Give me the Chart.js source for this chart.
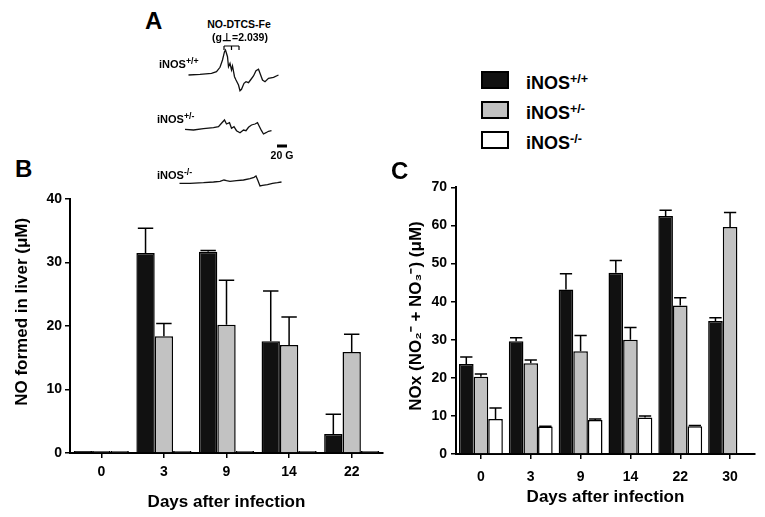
<!DOCTYPE html>
<html>
<head>
<meta charset="utf-8">
<script src="https://cdn.jsdelivr.net/npm/chart.js@4.4.1/dist/chart.umd.min.js"></script>
<style>
  html, body { margin: 0; padding: 0; background: #fff; }
  #fig { position: relative; width: 765px; height: 517px; overflow: hidden;
         font-family: "Liberation Sans", Arial, Helvetica, sans-serif; font-weight: bold; color: #000; }
  #fig canvas { position: absolute; }
  .txt { position: absolute; line-height: 1; white-space: nowrap; }
  .txt sup { font-size: 0.7em; vertical-align: 0.5em; line-height: 0; }
  .small sup { font-size: 0.8em; vertical-align: 0.45em; }
  .panel { font-size: 24px; }
  .small { font-size: 11px; }
  .note { font-size: 10.5px; }
  .center { transform: translateX(-50%); }
  .key { position: absolute; width: 28px; height: 18px; border: 2px solid #000; box-sizing: border-box; }
</style>
</head>
<body>
<div id="fig">
  <canvas id="traceChart" width="130" height="155" style="left:170px;top:40px"></canvas>
  <canvas id="liverChart" width="390" height="332" style="left:0;top:185px"></canvas>
  <canvas id="noxChart" width="385" height="342" style="left:380px;top:175px"></canvas>

  <div class="txt panel" style="left:145px;top:9px">A</div>
  <div class="txt panel" style="left:15px;top:157px">B</div>
  <div class="txt panel" style="left:391px;top:159px">C</div>

  <div class="txt note center" style="left:239px;top:19px">NO-DTCS-Fe</div>
  <div class="txt note center" style="left:240px;top:32px">(g⊥=2.039)</div>
  <div class="txt small" style="left:159px;top:59px">iNOS<sup>+/+</sup></div>
  <div class="txt small" style="left:157px;top:114px">iNOS<sup>+/-</sup></div>
  <div class="txt small" style="left:157px;top:170px">iNOS<sup>-/-</sup></div>
  <div class="txt note center" style="left:282px;top:150px">20 G</div>
</div>
<script>
// genotypes shared by every panel
const genotypes = ['+/+', '+/-', '-/-'];
const barColors = ['#111111', '#c2c2c2', '#ffffff'];

// B: NO formed in liver (uM), mean and upper error
const liverDays = ['0', '3', '9', '14', '22'];
const liverTicks = [0, 10, 20, 30, 40];
const liverWT = [0.3, 31.5, 31.7, 17.6, 3.0];
const liverWTErr = [0, 3.9, 0.2, 7.9, 3.1];
const liverHet = [0.3, 18.4, 20.2, 17.0, 15.9];
const liverHetErr = [0, 2.0, 7.0, 4.4, 2.8];
const liverKO = [0.3, 0.3, 0.3, 0.3, 0.3];
const liverKOErr = [0, 0, 0, 0, 0];

// C: NOx in serum (uM)
const noxDays = ['0', '3', '9', '14', '22', '30'];
const noxTicks = [0, 10, 20, 30, 40, 50, 60, 70];
const noxWT = [23.6, 29.6, 43.2, 47.6, 62.5, 34.9];
const noxWTErr = [1.9, 0.9, 4.1, 3.2, 1.5, 0.9];
const noxHet = [20.3, 23.8, 27.0, 30.0, 39.0, 59.6];
const noxHetErr = [0.7, 0.9, 4.1, 3.2, 2.0, 3.8];
const noxKO = [9.2, 7.2, 8.9, 9.6, 7.3, 0.2];
const noxKOErr = [2.9, 0.1, 0.3, 0.4, 0.2, 0];

// A: EPR spectra, field (G) and signal (arb. units)
const wtField = [21, 44, 67, 77, 84, 89, 93, 95, 99, 101, 104, 107, 109, 113, 116, 121, 124, 127, 132, 136, 141, 145, 151, 156, 161, 164, 169, 174, 181, 191, 201];
const wtSignal = [0, 0.7, 1.7, 3.3, 7.7, 15, 23.3, 25, 18.3, 8.3, 11.7, 5, 9, -1.7, -5, -10, -15.7, -14.3, -8.3, -6.7, -7.7, -5, -1, 4.3, 5.7, 1.7, -5, -6.7, -3.3, -2.3, 0];
const hetField = [14, 31, 51, 71, 81, 87, 93, 97, 103, 107, 112, 117, 124, 131, 136, 141, 147, 154, 159, 163, 167, 171, 176, 181, 187];
const hetSignal = [-0.3, -1, 0.3, 1.3, 2.3, 5.7, 9, 5, 6.3, 0.7, 2.3, -1.7, -3.7, -1, -1.7, 1.7, 4, 5, 6.3, 2.3, -1.7, -5, -3.7, -2.3, -1.7];
const koField = [3, 24, 51, 71, 84, 92, 97, 104, 117, 131, 144, 152, 156, 160, 164, 169, 179, 189, 199, 207];
const koSignal = [-0.3, -0.3, 0.3, 1, 1.7, 3, 2.3, 1.7, 2.3, 3, 4.3, 5.7, 7, 2.3, -3, -2.3, -1.7, -0.3, 0.3, 1];
const traceOffsets = [108, 54, 0];
const gMarkField = [92, 107, 122];
const gMarkLevel = 137;
const scaleBarField = [198, 218];
const scaleBarLevel = 37;

Chart.defaults.font.family = '"Liberation Sans", Arial, Helvetica, sans-serif';
Chart.defaults.font.weight = 'bold';
Chart.defaults.color = '#000';

// legend
const fig = document.getElementById('fig');
genotypes.forEach((g, i) => {
    const box = document.createElement('div');
    box.className = 'key';
    box.style.left = '481px';
    box.style.top = (71 + 30 * i) + 'px';
    box.style.background = barColors[i];
    fig.appendChild(box);
    const t = document.createElement('div');
    t.className = 'txt';
    t.style.fontSize = '18px';
    t.style.left = '526px';
    t.style.top = (74 + 30 * i) + 'px';
    t.innerHTML = 'iNOS<sup>' + g + '</sup>';
    fig.appendChild(t);
});

// upward error bars with a cap
const errorBars = {
    id: 'errorBars',
    afterDatasetsDraw(chart) {
        const ctx = chart.ctx;
        const y = chart.scales.y;
        ctx.save();
        ctx.strokeStyle = '#000';
        ctx.lineWidth = 1.5;
        chart.data.datasets.forEach((ds, i) => {
            chart.getDatasetMeta(i).data.forEach((bar, j) => {
                const e = ds.errors[j];
                if (!e) return;
                const top = y.getPixelForValue(ds.data[j] + e);
                const half = bar.width * 0.42;
                ctx.beginPath();
                ctx.moveTo(bar.x, bar.y);
                ctx.lineTo(bar.x, top);
                ctx.moveTo(bar.x - half, top);
                ctx.lineTo(bar.x + half, top);
                ctx.stroke();
            });
        });
        ctx.restore();
    }
};

function barSets(values, errors) {
    return values.map((v, i) => ({
        label: 'iNOS' + genotypes[i],
        data: v,
        errors: errors[i],
        backgroundColor: barColors[i],
        borderColor: '#000',
        borderWidth: 1.5,
        categoryPercentage: 0.88,
        barPercentage: 1
    }));
}

function barOptions(ticks, yTitle, sizes) {
    return {
        responsive: false,
        animation: false,
        layout: { padding: sizes.padding },
        plugins: { legend: { display: false }, tooltip: { enabled: false } },
        scales: {
            x: {
                grid: { offset: false, drawOnChartArea: false, tickLength: 5, color: '#000', lineWidth: 1.5 },
                border: { color: '#000', width: 2 },
                ticks: { font: { size: 14, weight: 'bold' }, padding: sizes.xTickPad, maxRotation: 0 },
                title: { display: true, text: 'Days after infection', font: { size: 17, weight: 'bold' }, padding: { top: 0, bottom: sizes.xTitlePad } },
                afterFit: s => { s.height = sizes.xHeight; }
            },
            y: {
                min: ticks[0],
                max: ticks[ticks.length - 1],
                afterBuildTicks: s => { s.ticks = ticks.map(v => ({ value: v })); },
                grid: { drawOnChartArea: false, tickLength: 5, color: '#000', lineWidth: 1.5 },
                border: { color: '#000', width: 2 },
                ticks: { font: { size: 14, weight: 'bold' }, padding: sizes.yTickPad },
                title: { display: true, text: yTitle, font: { size: 17, weight: 'bold' }, padding: { top: sizes.yTitlePad, bottom: 0 } },
                afterFit: s => { s.width = sizes.yWidth; }
            }
        }
    };
}

// leading spaces nudge the rotated titles toward the top, as in the figure
new Chart(document.getElementById('liverChart'), {
    type: 'bar',
    data: {
        labels: liverDays,
        datasets: barSets([liverWT, liverHet, liverKO], [liverWTErr, liverHetErr, liverKOErr])
    },
    options: barOptions(liverTicks, '      NO formed in liver (μM)', {
        padding: { top: 14, right: 7, bottom: 0, left: 0 },
        xHeight: 64, xTickPad: 6, xTitlePad: 4,
        yWidth: 70, yTickPad: 3, yTitlePad: 12
    }),
    plugins: [errorBars]
});

new Chart(document.getElementById('noxChart'), {
    type: 'bar',
    data: {
        labels: noxDays,
        datasets: barSets([noxWT, noxHet, noxKO], [noxWTErr, noxHetErr, noxKOErr])
    },
    options: barOptions(noxTicks, '  NOx (NO₂⁻ + NO₃⁻) (μM)', {
        padding: { top: 12, right: 10, bottom: 0, left: 0 },
        xHeight: 63, xTickPad: 10, xTitlePad: 9,
        yWidth: 76, yTickPad: 4, yTitlePad: 26
    }),
    plugins: [errorBars]
});

// EPR spectra panel
const traceMarks = {
    id: 'traceMarks',
    afterDatasetsDraw(chart) {
        const { ctx, scales: { x, y } } = chart;
        ctx.save();
        ctx.strokeStyle = '#000';
        ctx.lineWidth = 1.2;
        const yb = y.getPixelForValue(gMarkLevel);
        ctx.beginPath();
        ctx.moveTo(x.getPixelForValue(gMarkField[0]), yb);
        ctx.lineTo(x.getPixelForValue(gMarkField[gMarkField.length - 1]), yb);
        gMarkField.forEach(f => {
            const px = x.getPixelForValue(f);
            ctx.moveTo(px, yb);
            ctx.lineTo(px, yb + 4);
        });
        ctx.stroke();
        ctx.lineWidth = 3;
        const ys = y.getPixelForValue(scaleBarLevel);
        ctx.beginPath();
        ctx.moveTo(x.getPixelForValue(scaleBarField[0]), ys);
        ctx.lineTo(x.getPixelForValue(scaleBarField[1]), ys);
        ctx.stroke();
        ctx.restore();
    }
};

const traces = [[wtField, wtSignal], [hetField, hetSignal], [koField, koSignal]];
new Chart(document.getElementById('traceChart'), {
    type: 'scatter',
    data: {
        datasets: traces.map(([f, s], i) => ({
            label: 'iNOS' + genotypes[i],
            data: f.map((v, j) => ({ x: v, y: s[j] + traceOffsets[i] })),
            showLine: true,
            borderColor: '#111',
            borderWidth: 1.3,
            pointRadius: 0,
            tension: 0
        }))
    },
    options: {
        responsive: false,
        animation: false,
        layout: { padding: 0 },
        plugins: { legend: { display: false }, tooltip: { enabled: false } },
        scales: {
            x: { type: 'linear', min: -16, max: 244, display: false },
            y: { min: -12, max: 143, display: false }
        }
    },
    plugins: [traceMarks]
});
</script>
</body>
</html>
